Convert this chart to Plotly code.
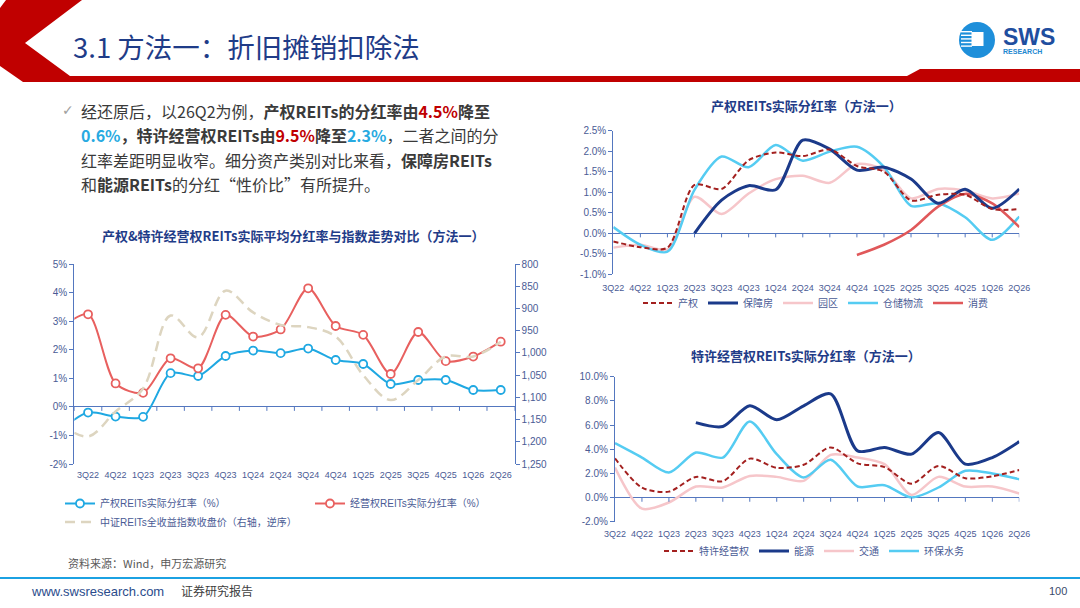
import plotly.graph_objects as go

# ---------------- data ----------------
QUARTERS = ["3Q22", "4Q22", "1Q23", "2Q23", "3Q23", "4Q23", "1Q24", "2Q24",
            "3Q24", "4Q24", "1Q25", "2Q25", "3Q25", "4Q25", "1Q26", "2Q26"]
# left chart has one leading quarter that lies just outside the visible axis
LEFT_CATS = ["2Q22"] + QUARTERS

CQ_YIELD = [-0.80, -0.20, -0.34, -0.35, 1.18, 1.08, 1.78, 1.97, 1.88, 2.04,
            1.64, 1.50, 0.80, 0.94, 0.94, 0.59, 0.59]          # 产权REITs实际分红率
JY_YIELD = [2.75, 3.24, 0.82, 0.49, 1.70, 1.35, 3.22, 2.46, 2.71, 4.15,
            2.83, 2.52, 1.15, 2.62, 1.60, 1.76, 2.28]          # 经营权REITs实际分红率
INDEX_CLOSE = [1160, 1188, 1132, 1080, 916, 965, 860, 909, 937, 942,
               963, 1050, 1106, 1061, 1008, 1008, 975]          # 中证REITs全收益指数收盘价

LEFT_Y_TICKS = [-2, -1, 0, 1, 2, 3, 4, 5]
RIGHT_Y_TICKS = [800, 850, 900, 950, 1000, 1050, 1100, 1150, 1200, 1250]

# top-right: 产权 sub-types
CQ_TOTAL = CQ_YIELD[1:]
BZF = [None, None, None, 0.00, 0.81, 1.16, 1.06, 2.27, 2.05, 1.54, 1.61, 1.32, 0.73, 1.07, 0.61, 1.08]
YQ = [-0.35, -0.28, -0.39, 0.89, 0.47, 0.97, 1.32, 1.40, 1.23, 1.69, 1.54, 0.85, 1.08, 1.04, 0.85, 0.97]
CCWL = [0.15, -0.28, -0.45, 1.06, 1.87, 1.61, 2.15, 1.77, 1.99, 2.11, 1.62, 0.67, 0.73, 0.39, -0.16, 0.41]
XF = [None, None, None, None, None, None, None, None, None, -0.53, -0.28, 0.08, 0.65, 0.96, 0.73, 0.15]
TR_Y_TICKS = [-1.0, -0.5, 0.0, 0.5, 1.0, 1.5, 2.0, 2.5]

# bottom-right: 特许经营权 sub-types
TX_TOTAL = JY_YIELD[1:]
NY = [None, None, None, 6.20, 5.88, 7.59, 6.43, 7.59, 8.58, 3.86, 4.14, 3.59, 5.38, 2.76, 3.31, 4.63]
JT = [2.48, -0.92, -0.41, 0.91, 0.83, 1.79, 1.71, 1.38, 3.53, 3.31, 2.76, 0.22, 1.71, 0.91, 0.91, 0.33]
HBSW = [4.50, 3.31, 2.07, 3.72, 3.31, 6.29, 3.59, 1.66, 3.12, 0.91, 1.02, 0.00, 0.83, 2.21, 1.99, 1.52]
BR_Y_TICKS = [-2.0, 0.0, 2.0, 4.0, 6.0, 8.0, 10.0]

# ---------------- styling helpers ----------------
W, H = 1080, 608


def px(x):
    return x / W


def py(y):
    return 1 - y / H


CJK = "Noto Sans CJK SC"
LAT = "Liberation Sans, Noto Sans CJK SC"
NAVY = "#1F3C88"
AX_BLUE = "#5477BF"
TICK_COLOR = "#4A5B95"
BLUE = "#1FA8E2"
SALMON = "#E8605F"
TAN = "#DDD5C0"
DARKRED = "#A3201F"
DEEPNAVY = "#1B3A8A"
PINK = "#F6C6CA"
CYAN = "#55CCF2"
CONSUME = "#E0585A"

fig = go.Figure()

# ---------------- left chart ----------------
fig.add_trace(go.Scatter(
    x=LEFT_CATS, y=INDEX_CLOSE, mode="lines", name="中证REITs全收益指数收盘价（右轴，逆序）",
    line=dict(color=TAN, width=2.5, shape="spline", smoothing=1.0, dash="10px,6px"),
    xaxis="x", yaxis="y2", legend="legend4"))
fig.add_trace(go.Scatter(
    x=LEFT_CATS, y=CQ_YIELD, mode="lines+markers", name="产权REITs实际分红率（%）",
    line=dict(color=BLUE, width=2, shape="spline", smoothing=0.8),
    marker=dict(size=8, color="white", line=dict(color=BLUE, width=1.8)),
    xaxis="x", yaxis="y", legend="legend"))
fig.add_trace(go.Scatter(
    x=LEFT_CATS, y=JY_YIELD, mode="lines+markers", name="经营权REITs实际分红率（%）",
    line=dict(color=SALMON, width=2, shape="spline", smoothing=0.8),
    marker=dict(size=8, color="white", line=dict(color=SALMON, width=1.8)),
    xaxis="x", yaxis="y", legend="legend"))

# ---------------- top-right chart ----------------
tr_series = [
    ("产权", CQ_TOTAL, DARKRED, 2, "5px,3px"),
    ("保障房", BZF, DEEPNAVY, 3, None),
    ("园区", YQ, PINK, 2.5, None),
    ("仓储物流", CCWL, CYAN, 2.5, None),
    ("消费", XF, CONSUME, 2.5, None),
]
draw_order_tr = [2, 3, 4, 1, 0]
for i in draw_order_tr:
    name, vals, col, wd, dash = tr_series[i]
    fig.add_trace(go.Scatter(
        x=QUARTERS, y=vals, mode="lines", name=name,
        line=dict(color=col, width=wd, shape="spline", smoothing=0.8, dash=dash),
        xaxis="x2", yaxis="y3", legend="legend2", legendrank=i + 1, connectgaps=False))

# ---------------- bottom-right chart ----------------
br_series = [
    ("特许经营权", TX_TOTAL, DARKRED, 2, "5px,3px"),
    ("能源", NY, DEEPNAVY, 3, None),
    ("交通", JT, PINK, 2.5, None),
    ("环保水务", HBSW, CYAN, 2.5, None),
]
draw_order_br = [2, 3, 1, 0]
for i in draw_order_br:
    name, vals, col, wd, dash = br_series[i]
    fig.add_trace(go.Scatter(
        x=QUARTERS, y=vals, mode="lines", name=name,
        line=dict(color=col, width=wd, shape="spline", smoothing=0.8, dash=dash),
        xaxis="x3", yaxis="y4", legend="legend3", legendrank=i + 1, connectgaps=False))

# ---------------- axes ----------------
tickfont = dict(family=LAT, size=10, color=TICK_COLOR)
xtickfont = dict(family=LAT, size=9, color=TICK_COLOR)


def pct_label(v, dec):
    return f"{v:.{dec}f}%"


def comma_label(v):
    return f"{v:,}"


common_y = dict(showgrid=False, showline=True, linecolor=AX_BLUE, linewidth=1.2,
                ticks="outside", ticklen=4, tickcolor=AX_BLUE, tickfont=tickfont,
                zeroline=True, zerolinecolor=AX_BLUE, zerolinewidth=1.2, fixedrange=True,
                automargin=False)
common_x = dict(type="category", showgrid=False, showline=False, zeroline=False,
                ticks="", tickfont=xtickfont, tickangle=0, fixedrange=True, automargin=False)

fig.update_layout(
    xaxis=dict(domain=[px(74.3), px(514.5)], anchor="y", range=[0.5, len(LEFT_CATS) - 0.5],
               tickvals=QUARTERS, ticktext=QUARTERS, ticklabelstandoff=4, **common_x),
    yaxis=dict(domain=[py(464), py(264)], anchor="x", range=[-2, 5],
               tickvals=LEFT_Y_TICKS, ticktext=[pct_label(v, 0) for v in LEFT_Y_TICKS], **common_y),
    yaxis2=dict(overlaying="y", side="right", anchor="x", range=[1250, 800],
                tickvals=RIGHT_Y_TICKS, ticktext=[comma_label(v) for v in RIGHT_Y_TICKS],
                showgrid=False, showline=True, linecolor=AX_BLUE, linewidth=1.2,
                ticks="outside", ticklen=4, tickcolor=AX_BLUE, tickfont=tickfont,
                zeroline=False, fixedrange=True, automargin=False),
    xaxis2=dict(domain=[px(613.3), px(1019.3)], anchor="y3", range=[0, len(QUARTERS) - 1],
                tickvals=QUARTERS, ticktext=QUARTERS, ticklabelstandoff=7, **common_x),
    yaxis3=dict(domain=[py(274.3), py(130.7)], anchor="x2", range=[-1.0, 2.5],
                tickvals=TR_Y_TICKS, ticktext=[pct_label(v, 1) for v in TR_Y_TICKS], **common_y),
    xaxis3=dict(domain=[px(615), px(1019.3)], anchor="y4", range=[0, len(QUARTERS) - 1],
                tickvals=QUARTERS, ticktext=QUARTERS, ticklabelstandoff=5, **common_x),
    yaxis4=dict(domain=[py(521.7), py(376.7)], anchor="x3", range=[-2.0, 10.0],
                tickvals=BR_Y_TICKS, ticktext=[pct_label(v, 1) for v in BR_Y_TICKS], **common_y),
)

# ---------------- legends ----------------
leg_font = dict(family=LAT, size=10, color=TICK_COLOR)
fig.update_layout(
    legend=dict(x=px(60), y=py(503.5), xanchor="left", yanchor="middle", orientation="h",
                entrywidth=205, font=leg_font, bgcolor="rgba(0,0,0,0)", tracegroupgap=0),
    legend4=dict(x=px(60), y=py(522), xanchor="left", yanchor="middle", orientation="h",
                 font=leg_font, bgcolor="rgba(0,0,0,0)"),
    legend2=dict(x=px(638), y=py(303), xanchor="left", yanchor="middle", orientation="h",
                 font=leg_font, bgcolor="rgba(0,0,0,0)", traceorder="normal"),
    legend3=dict(x=px(659), y=py(551), xanchor="left", yanchor="middle", orientation="h",
                 font=leg_font, bgcolor="rgba(0,0,0,0)", traceorder="normal"),
)

# ---------------- shapes (decoration) ----------------
shapes = []
# header red band with chevron
pts = [(6, 0), (82, 0), (25, 43), (70, 76), (907, 76), (920, 69), (1080, 69),
       (1080, 82), (23, 82), (0, 66), (0, 8)]
path = "M " + " L ".join(f"{px(a):.5f},{py(b):.5f}" for a, b in pts) + " Z"
shapes.append(dict(type="path", path=path, xref="paper", yref="paper",
                   fillcolor="#C00000", line=dict(width=0), layer="below"))
# logo
shapes.append(dict(type="circle", xref="paper", yref="paper",
                   x0=px(959), x1=px(995), y0=py(58), y1=py(22),
                   fillcolor="#1E8FDA", line=dict(width=0)))
for k in range(5):
    yy = 31 + k * 3.6
    shapes.append(dict(type="rect", xref="paper", yref="paper",
                       x0=px(961), x1=px(972), y0=py(yy + 1.4), y1=py(yy),
                       fillcolor="white", line=dict(width=0)))
shapes.append(dict(type="rect", xref="paper", yref="paper",
                   x0=px(971.5), x1=px(983.5), y0=py(46), y1=py(32),
                   fillcolor="white", line=dict(width=0)))
# footer rule
shapes.append(dict(type="line", xref="paper", yref="paper",
                   x0=0, x1=1, y0=py(578), y1=py(578),
                   line=dict(color="#1BA1E2", width=2)))
# axis tick marks on the zero lines
for k in range(len(LEFT_CATS)):
    shapes.append(dict(type="line", xref="x", yref="y", x0=k + 0.5, x1=k + 0.5,
                       y0=0, y1=-0.14, line=dict(color=AX_BLUE, width=1)))
for k in range(1, len(QUARTERS)):
    shapes.append(dict(type="line", xref="x2", yref="y3", x0=k, x1=k,
                       y0=0, y1=-0.1, line=dict(color=AX_BLUE, width=1)))
    shapes.append(dict(type="line", xref="x3", yref="y4", x0=k, x1=k,
                       y0=0, y1=-0.35, line=dict(color=AX_BLUE, width=1)))
fig.update_layout(shapes=shapes)

# ---------------- text ----------------
ann = []


def add_text(x, y, text, size, color, anchor="left", family=CJK):
    ann.append(dict(x=px(x), y=py(y), xref="paper", yref="paper", text=text,
                    showarrow=False, xanchor=anchor, yanchor="middle",
                    font=dict(family=family, size=size, color=color)))


add_text(71, 46, "3.1 方法一：折旧摊销扣除法", 27.5, NAVY)
add_text(1001, 37, "<b>SWS</b>", 23, "#1F4E9F", family="Liberation Sans")
add_text(1001, 52, "<b>RESEARCH</b>", 7, "#1E88D0", family="Liberation Sans")

RED_T = "#C00000"
CYAN_T = "#27AAE1"
add_text(60, 110, "✓", 14, "#A0A0A0", family="DejaVu Sans")
lines = [
    f"经还原后，以26Q2为例，<b>产权REITs的分红率由</b><b><span style='color:{RED_T}'>4.5%</span></b><b>降至</b>",
    f"<b><span style='color:{CYAN_T}'>0.6%</span></b><b>，特许经营权REITs由</b><b><span style='color:{RED_T}'>9.5%</span></b><b>降至</b><b><span style='color:{CYAN_T}'>2.3%</span></b>，二者之间的分",
    "红率差距明显收窄。细分资产类别对比来看，<b>保障房REITs</b>",
    "和<b>能源REITs</b>的分红“性价比”有所提升。",
]
for i, t in enumerate(lines):
    add_text(79, 110.7 + i * 24.4, t, 16, "#3A3A3A")

add_text(293, 235, "<b>产权&特许经营权REITs实际平均分红率与指数走势对比（方法一）</b>", 13, NAVY, anchor="center")
add_text(806, 106, "<b>产权REITs实际分红率（方法一）</b>", 13, NAVY, anchor="center")
add_text(806, 355, "<b>特许经营权REITs实际分红率（方法一）</b>", 13, NAVY, anchor="center")

add_text(66, 563, "资料来源：Wind，申万宏源研究", 11, "#595959")
add_text(29, 591, "www.swsresearch.com", 13, "#2B4C8C", family=LAT)
add_text(179, 590, "证券研究报告", 12, "#404040")
add_text(1058, 591, "100", 11, "#3B4A6B", anchor="center", family=LAT)

fig.update_layout(annotations=ann)

fig.update_layout(
    width=W, height=H, margin=dict(l=0, r=0, t=0, b=0, pad=0, autoexpand=False),
    paper_bgcolor="white", plot_bgcolor="white",
    font=dict(family=CJK), showlegend=True, hovermode=False,
)

fig.write_html(
    "out.html", config={"displayModeBar": False},
    post_script=("document.documentElement.style.margin='0';"
                 "document.body.style.margin='0';document.body.style.padding='0';"
                 "document.body.style.overflow='hidden';"))
